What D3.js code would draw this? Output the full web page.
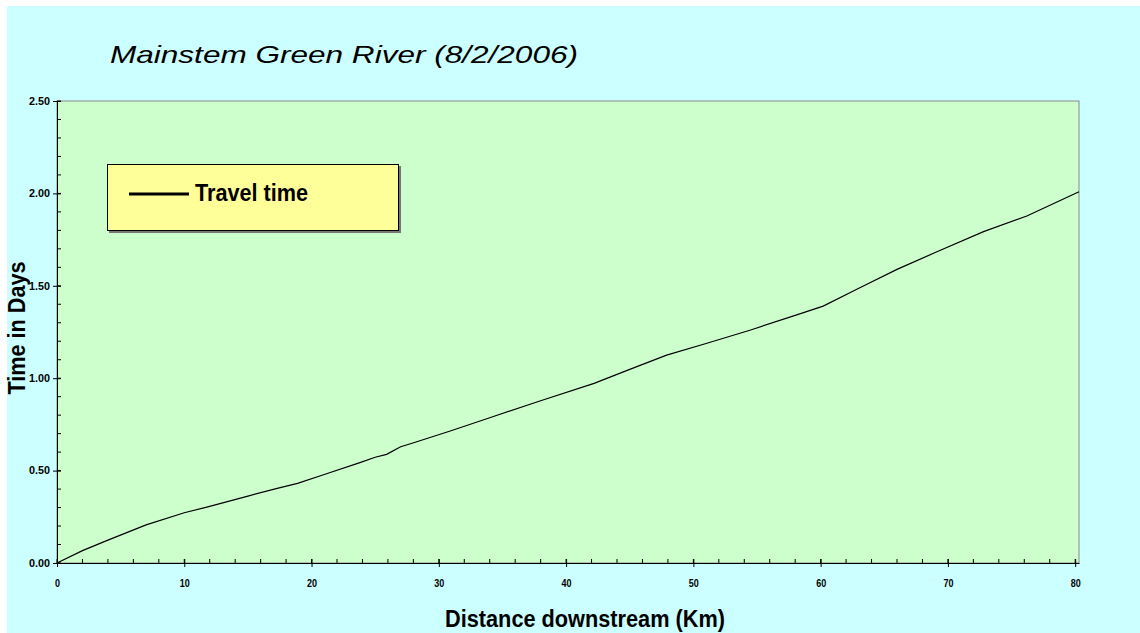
<!DOCTYPE html>
<html><head><meta charset="utf-8">
<script src="https://cdn.jsdelivr.net/npm/d3@7"></script>
<style>html,body{margin:0;padding:0;background:#fff;}svg{display:block;}</style>
</head><body>
<script>
const titleText = "Mainstem Green River (8/2/2006)";
const xTitle = "Distance downstream (Km)";
const yTitle = "Time in Days";
const seriesName = "Travel time";
const distKm = [0, 2, 4, 7, 10, 11.7, 15, 17.3, 18.9, 21, 23.8, 25, 25.9, 27, 27.9, 30.9, 34, 38, 42.2, 45, 47.9, 51, 54.5, 58, 60.2, 63, 66, 69, 72.8, 76.2, 80.3];
const timeDays = [0, 0.067, 0.124, 0.206, 0.272, 0.301, 0.362, 0.404, 0.431, 0.479, 0.543, 0.572, 0.588, 0.629, 0.648, 0.714, 0.786, 0.878, 0.972, 1.048, 1.125, 1.188, 1.261, 1.34, 1.39, 1.487, 1.589, 1.68, 1.793, 1.878, 2.009];
const xTicks = [0, 10, 20, 30, 40, 50, 60, 70, 80];
const yTicks = [0, 0.5, 1.0, 1.5, 2.0, 2.5];

const W = 1140, H = 633;
const L = 57, R = 1079, T = 101, B = 563;
const svg = d3.select("body").append("svg").attr("width", W).attr("height", H);
svg.append("rect").attr("x", 7).attr("y", 6).attr("width", W - 7).attr("height", H - 6).attr("fill", "#CCFFFF");

const x = d3.scaleLinear().domain([0, 80.3]).range([L, R]);
const y = d3.scaleLinear().domain([0, 2.5]).range([B, T]);

svg.append("rect").attr("x", L).attr("y", T).attr("width", R - L).attr("height", B - T)
  .attr("fill", "#CCFFCC").attr("stroke", "#888").attr("stroke-width", 1);

const font = "'Liberation Sans',Arial,sans-serif";

// minor ticks
const g = svg.append("g");
g.selectAll(".xm").data(d3.range(0, 81, 2)).join("line")
  .attr("x1", d => x(d)).attr("x2", d => x(d)).attr("y1", B - 4).attr("y2", B).attr("stroke", "#000");
g.selectAll(".ym").data(d3.range(0, 26).map(i => i / 10)).join("line")
  .attr("x1", L).attr("x2", L + 4).attr("y1", d => y(d)).attr("y2", d => y(d)).attr("stroke", "#000");

// axes
const xAxis = svg.append("g").attr("transform", `translate(0,${B})`)
  .call(d3.axisBottom(x).tickValues(xTicks).tickFormat(d3.format("d")).tickSize(4).tickSizeOuter(0));
const yAxis = svg.append("g").attr("transform", `translate(${L},0)`)
  .call(d3.axisLeft(y).tickValues(yTicks).tickFormat(d3.format(".2f")).tickSize(4).tickSizeOuter(0));
[xAxis, yAxis].forEach(a => {
  a.select(".domain").attr("stroke", "#000");
  a.selectAll(".tick line").attr("stroke", "#000");
  a.selectAll("text").attr("font-family", font).attr("font-weight", "bold").attr("fill", "#000")
    .attr("lengthAdjust", "spacingAndGlyphs");
});
xAxis.selectAll(".tick line").attr("y1", -4);
yAxis.selectAll(".tick line").attr("x1", 4);
xAxis.selectAll("text").attr("font-size", 11).attr("y", 16).attr("textLength", function () { return this.textContent.length * 5; });
yAxis.selectAll("text").attr("font-size", 10).attr("x", -7).attr("textLength", 21);

// line
const line = d3.line().x((d, i) => x(distKm[i])).y((d, i) => y(timeDays[i]));
svg.append("path").datum(timeDays).attr("d", line).attr("fill", "none")
  .attr("stroke", "#000").attr("stroke-width", 1.2);

// title
svg.append("text").attr("x", 110).attr("y", 63).text(titleText)
  .attr("font-family", font).attr("font-style", "italic")
  .attr("font-size", 24).attr("fill", "#000").attr("textLength", 468).attr("lengthAdjust", "spacingAndGlyphs");

// axis titles
svg.append("text").attr("x", 585).attr("y", 627).attr("text-anchor", "middle").text(xTitle)
  .attr("font-family", font).attr("font-weight", "bold").attr("font-size", 23)
  .attr("textLength", 280).attr("lengthAdjust", "spacingAndGlyphs");
svg.append("text").attr("transform", "translate(25,328) rotate(-90)").attr("text-anchor", "middle").text(yTitle)
  .attr("font-family", font).attr("font-weight", "bold").attr("font-size", 23)
  .attr("textLength", 133).attr("lengthAdjust", "spacingAndGlyphs");

// legend
svg.append("rect").attr("x", 109).attr("y", 166).attr("width", 292).attr("height", 67).attr("fill", "#777");
svg.append("rect").attr("x", 107.5).attr("y", 164.5).attr("width", 291).attr("height", 66)
  .attr("fill", "#FFFF99").attr("stroke", "#000").attr("stroke-width", 1);
svg.append("line").attr("x1", 129).attr("x2", 189).attr("y1", 194).attr("y2", 194)
  .attr("stroke", "#000").attr("stroke-width", 3);
svg.append("text").attr("x", 195).attr("y", 201).text(seriesName)
  .attr("font-family", font).attr("font-weight", "bold").attr("font-size", 23)
  .attr("textLength", 113).attr("lengthAdjust", "spacingAndGlyphs");
</script>
</body></html>
